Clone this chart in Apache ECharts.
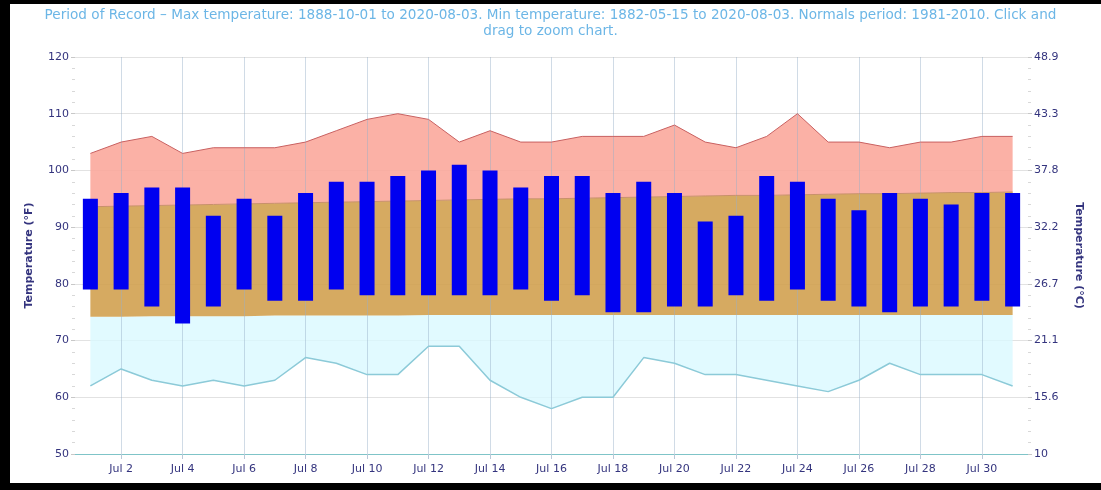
<!DOCTYPE html>
<html>
<head>
<meta charset="utf-8">
<script src="https://cdn.jsdelivr.net/npm/echarts@6/dist/echarts.min.js"></script>
<style>
  html, body { margin: 0; padding: 0; background: #000; width: 1101px; height: 490px; overflow: hidden; }
  #paper { position: absolute; left: 10px; top: 4px; width: 1091px; height: 479px; background: #fff; }
  #chart { position: absolute; left: 0; top: 0; width: 1101px; height: 490px; }
</style>
</head>
<body>
<div id="paper"></div>
<div id="chart"></div>
<script>
// ---- Data (°F), July 1..31 ----
const days = ['Jul 1','Jul 2','Jul 3','Jul 4','Jul 5','Jul 6','Jul 7','Jul 8','Jul 9','Jul 10',
  'Jul 11','Jul 12','Jul 13','Jul 14','Jul 15','Jul 16','Jul 17','Jul 18','Jul 19','Jul 20',
  'Jul 21','Jul 22','Jul 23','Jul 24','Jul 25','Jul 26','Jul 27','Jul 28','Jul 29','Jul 30','Jul 31'];
const xTickLabels = ['Jul 2','Jul 4','Jul 6','Jul 8','Jul 10','Jul 12','Jul 14','Jul 16','Jul 18',
  'Jul 20','Jul 22','Jul 24','Jul 26','Jul 28','Jul 30'];
const recordHigh = [103,105,106,103,104,104,104,105,107,109,110,109,105,107,105,105,106,106,106,108,105,104,106,110,105,105,104,105,105,106,106];
const recordLow  = [62,65,63,62,63,62,63,67,66,64,64,69,69,63,60,58,60,60,67,66,64,64,63,62,61,63,66,64,64,64,62];
const normalHigh = [93.6,93.7,93.8,93.9,94.0,94.1,94.2,94.3,94.4,94.5,94.6,94.7,94.8,94.9,95.0,95.0,95.1,95.2,95.3,95.4,95.5,95.6,95.6,95.7,95.8,95.9,95.9,96.0,96.1,96.1,96.2];
const normalLow  = [74.2,74.2,74.3,74.3,74.3,74.3,74.4,74.4,74.4,74.4,74.4,74.5,74.5,74.5,74.5,74.5,74.5,74.5,74.5,74.5,74.5,74.5,74.5,74.5,74.5,74.5,74.5,74.5,74.5,74.5,74.5];
const actualHigh = [95,96,97,97,92,95,92,96,98,98,99,100,101,100,97,99,99,96,98,96,91,92,99,98,95,93,96,95,94,96,96];
const actualLow  = [79,79,76,73,76,79,77,77,79,78,78,78,78,78,79,77,78,75,75,76,76,78,77,79,77,76,75,76,76,77,76];
const titleText = 'Period of Record \u2013 Max temperature: 1888-10-01 to 2020-08-03. Min temperature: 1882-05-15 to 2020-08-03. Normals period: 1981-2010. Click and\ndrag to zoom chart.';

// ---- derived stacks ----
const diff = (a, b) => a.map((v, i) => +(v - b[i]).toFixed(2));
const coldBand = diff(normalLow, recordLow);
const normBand = diff(normalHigh, normalLow);
const hotBand  = diff(recordHigh, normalHigh);
const barSpan  = diff(actualHigh, actualLow);

const navy = '#34347e';
const fToC = v => { const c = (v - 32) * 5 / 9; return String(parseFloat(c.toFixed(1))); };
const showTick = (i, v) => xTickLabels.indexOf(v) >= 0;

const chart = echarts.init(document.getElementById('chart'), null, { renderer: 'canvas' });
chart.setOption({
  backgroundColor: 'transparent',
  animation: false,
  graphic: [{
    type: 'text', left: 'center', top: 7, silent: true,
    style: { text: titleText, fill: '#6cb6e6', font: '13.6px "DejaVu Sans"', textAlign: 'center', lineHeight: 16, align: 'center' }
  }],
  grid: { left: 75, right: 73, top: 57, bottom: 36, containLabel: false },
  xAxis: {
    type: 'category',
    data: days,
    boundaryGap: true,
    axisLine: { show: true, lineStyle: { color: '#7fc4c8', width: 1 } },
    axisTick: { show: true, alignWithLabel: true, interval: showTick, length: 5, lineStyle: { color: '#b8c8d8' } },
    axisLabel: { interval: showTick, color: navy, fontSize: 11, fontFamily: 'DejaVu Sans', margin: 10 },
    splitLine: { show: false }
  },
  yAxis: [
    {
      type: 'value', min: 50, max: 120, interval: 10,
      name: 'Temperature (°F)', nameLocation: 'middle', nameGap: 40, nameRotate: 90,
      nameTextStyle: { color: navy, fontSize: 11, fontWeight: 'bold', fontFamily: 'DejaVu Sans' },
      axisLine: { show: false },
      axisTick: { show: true, length: 4, lineStyle: { color: '#c8c8c8' } },
      minorTick: { show: true, splitNumber: 5, length: 3, lineStyle: { color: '#d8d8d8' } },
      axisLabel: { color: navy, fontSize: 11, fontFamily: 'DejaVu Sans', margin: 6 },
      splitLine: { show: true, lineStyle: { color: '#e2e2e2' } }
    },
    {
      type: 'value', min: 50, max: 120, interval: 10, position: 'right',
      name: 'Temperature (°C)', nameLocation: 'middle', nameGap: 45, nameRotate: -90,
      nameTextStyle: { color: navy, fontSize: 11, fontWeight: 'bold', fontFamily: 'DejaVu Sans' },
      axisLine: { show: false },
      axisTick: { show: true, length: 4, lineStyle: { color: '#c8c8c8' } },
      minorTick: { show: true, splitNumber: 5, length: 3, lineStyle: { color: '#d8d8d8' } },
      axisLabel: { color: navy, fontSize: 11, fontFamily: 'DejaVu Sans', margin: 6, formatter: fToC },
      splitLine: { show: false }
    }
  ],
  series: [
    { name: 'base', type: 'line', stack: 'band', data: recordLow, symbol: 'none',
      lineStyle: { opacity: 0 }, silent: true, z: 1 },
    { name: 'Record low band', type: 'line', stack: 'band', data: coldBand, symbol: 'none',
      lineStyle: { opacity: 0 }, areaStyle: { color: 'rgba(218,249,255,0.8)', opacity: 1 }, z: 1 },
    { name: 'Normal band', type: 'line', stack: 'band', data: normBand, symbol: 'none',
      lineStyle: { opacity: 0 }, areaStyle: { color: 'rgba(209,161,80,0.9)', opacity: 1 }, z: 1 },
    { name: 'Record high band', type: 'line', stack: 'band', data: hotBand, symbol: 'none',
      lineStyle: { opacity: 0 }, areaStyle: { color: 'rgba(250,166,154,0.88)', opacity: 1 }, z: 1 },
    { name: 'grid lines', type: 'line', data: [], symbol: 'none', silent: true, z: 2,
      markLine: {
        silent: true, symbol: 'none', label: { show: false }, z: 2,
        lineStyle: { color: 'rgba(150,175,200,0.45)', width: 1, type: 'solid' },
        data: xTickLabels.map(d => ({ xAxis: d }))
      } },
    { name: 'Normal high', type: 'line', data: normalHigh, symbol: 'none',
      lineStyle: { color: '#c8906a', width: 1 }, z: 2 },
    { name: 'Record high', type: 'line', data: recordHigh, symbol: 'none',
      lineStyle: { color: '#c86060', width: 1 }, z: 3 },
    { name: 'Record low', type: 'line', data: recordLow, symbol: 'none',
      lineStyle: { color: '#8ccad8', width: 1.5 }, z: 3 },
    { name: 'lowbase', type: 'bar', stack: 'act', data: actualLow, barWidth: 15,
      itemStyle: { color: 'rgba(0,0,0,0)' }, silent: true, z: 6 },
    { name: '2020', type: 'bar', stack: 'act', data: barSpan, barWidth: 15,
      itemStyle: { color: '#0000f0' }, z: 6 }
  ]
});
</script>
</body>
</html>
